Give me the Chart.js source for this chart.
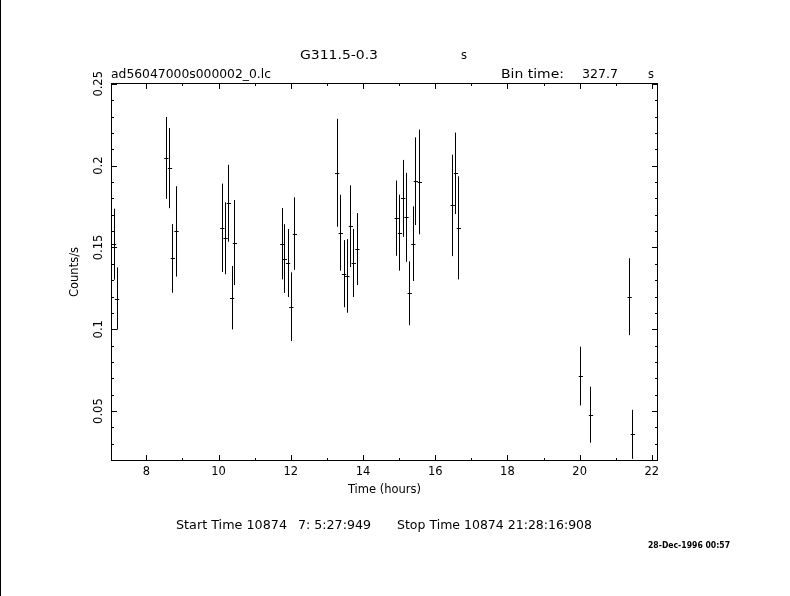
<!DOCTYPE html>
<html>
<head>
<meta charset="utf-8">
<script src="https://cdn.jsdelivr.net/npm/chart.js@4.4.0/dist/chart.umd.min.js"></script>
<style>
  html, body { margin: 0; padding: 0; background: #fff; }
  #wrap { width: 790px; height: 596px; }
</style>
</head>
<body>
<div id="wrap"><canvas id="lc" width="790" height="596"></canvas></div>
<script>
// light curve bins: time (hours), rate (counts/s), 1-sigma error
const timeHours = [
  7.09, 7.175,
  8.54, 8.64, 8.72, 8.82,
  10.09, 10.18, 10.27, 10.36, 10.44,
  11.75, 11.82, 11.91, 12.0, 12.10,
  13.27, 13.37, 13.46, 13.55, 13.65, 13.73, 13.83,
  14.92, 15.01, 15.10, 15.19, 15.28, 15.38, 15.45, 15.56,
  16.47, 16.56, 16.64,
  20.02, 20.30,
  21.37, 21.46
];
const countRate = [
  0.152, 0.1188,
  0.2047, 0.1985, 0.1433, 0.1598,
  0.162, 0.1556, 0.177, 0.1193, 0.153,
  0.1523, 0.1432, 0.1405, 0.1138, 0.1585,
  0.1956, 0.159, 0.134, 0.1326, 0.163, 0.1405, 0.149,
  0.1679, 0.159, 0.18, 0.1684, 0.122, 0.1523, 0.1905, 0.19,
  0.1757, 0.1953, 0.162,
  0.0714, 0.0478,
  0.1199, 0.0358
];
const rateError = [
  0.0217, 0.019,
  0.025, 0.0245, 0.021, 0.0276,
  0.027, 0.022, 0.0235, 0.0194, 0.026,
  0.0218, 0.021, 0.0208, 0.021, 0.0222,
  0.033, 0.0232, 0.0205, 0.0225, 0.025, 0.0208, 0.022,
  0.023, 0.0232, 0.0235, 0.0272, 0.0195, 0.0228, 0.0268, 0.032,
  0.031, 0.0249, 0.0315,
  0.018, 0.0171,
  0.0235, 0.015
];

const xTicks = [8, 10, 12, 14, 16, 18, 20, 22];
const yTicks = [0.05, 0.1, 0.15, 0.2, 0.25];
const binTime = 327.7; // seconds

const FONT = '11.5px "DejaVu Sans"';

// draw a string squeezed/stretched to a given width, left edge at x
function fitText(ctx, str, x, y, w, font) {
  ctx.font = font || FONT;
  const m = ctx.measureText(str).width;
  ctx.save();
  ctx.translate(x, y);
  ctx.scale(w / m, 1);
  ctx.textAlign = 'left';
  ctx.textBaseline = 'middle';
  ctx.fillText(str, 0, 0);
  ctx.restore();
}

const errorBars = {
  id: 'errorBars',
  afterDatasetsDraw(chart) {
    const ctx = chart.ctx;
    const xs = chart.scales.x, ys = chart.scales.y;
    const half = binTime / 3600 / 2;
    ctx.save();
    ctx.strokeStyle = '#000';
    ctx.lineWidth = 1;
    ctx.beginPath();
    timeHours.forEach((t, i) => {
      const px = Math.round(xs.getPixelForValue(t)) + 0.5;
      const py = Math.round(ys.getPixelForValue(countRate[i])) + 0.5;
      ctx.moveTo(px, ys.getPixelForValue(countRate[i] + rateError[i]));
      ctx.lineTo(px, ys.getPixelForValue(countRate[i] - rateError[i]));
      ctx.moveTo(xs.getPixelForValue(t - half), py);
      ctx.lineTo(xs.getPixelForValue(t + half) + 1, py);
    });
    ctx.stroke();
    ctx.restore();
  }
};

const frame = {
  id: 'frame',
  afterDraw(chart) {
    const ctx = chart.ctx;
    const a = chart.chartArea;
    const xs = chart.scales.x, ys = chart.scales.y;
    ctx.save();
    ctx.fillStyle = '#000';
    ctx.strokeStyle = '#000';
    ctx.lineWidth = 1;

    // left border of the page
    ctx.fillRect(0, 0, 1, 596);

    ctx.strokeRect(a.left + 0.5, a.top + 0.5, a.right - a.left - 1, a.bottom - a.top - 1);

    // ticks inside the box, every hour / every 0.01
    ctx.beginPath();
    for (let h = Math.ceil(xs.min); h <= xs.max; h++) {
      const px = Math.round(xs.getPixelForValue(h)) + 0.5;
      const len = xTicks.includes(h) ? 6 : 3;
      ctx.moveTo(px, a.bottom); ctx.lineTo(px, a.bottom - len);
      ctx.moveTo(px, a.top); ctx.lineTo(px, a.top + len);
    }
    for (let k = Math.ceil(ys.min * 100); k <= Math.floor(ys.max * 100 + 1e-6); k++) {
      const py = Math.round(ys.getPixelForValue(k / 100)) + 0.5;
      const len = k % 5 === 0 ? 6 : 3;
      ctx.moveTo(a.left, py); ctx.lineTo(a.left + len, py);
      ctx.moveTo(a.right, py); ctx.lineTo(a.right - len, py);
    }
    ctx.stroke();

    // tick labels
    ctx.font = FONT;
    ctx.textAlign = 'center';
    ctx.textBaseline = 'middle';
    xTicks.forEach(v => {
      ctx.fillText(String(v), xs.getPixelForValue(v), 472);
    });
    yTicks.forEach(v => {
      ctx.save();
      ctx.translate(99, ys.getPixelForValue(v));
      ctx.rotate(-Math.PI / 2);
      ctx.fillText(String(v), 0, 0);
      ctx.restore();
    });

    // axis titles
    ctx.fillText('Time (hours)', (a.left + a.right) / 2, 490);
    ctx.save();
    ctx.translate(75, (a.top + a.bottom) / 2);
    ctx.rotate(-Math.PI / 2);
    ctx.fillText('Counts/s', 0, 0);
    ctx.restore();

    // header lines
    fitText(ctx, 'G311.5-0.3', 300, 56, 78);
    ctx.fillText('s', 464, 56);
    fitText(ctx, 'ad56047000s000002_0.lc', 111, 75, 160);
    fitText(ctx, 'Bin time:', 501, 75, 63);
    fitText(ctx, String(binTime), 582, 75, 36);
    ctx.fillText('s', 651, 75);

    // footer
    fitText(ctx, 'Start Time 10874', 176, 526, 111);
    fitText(ctx, '7: 5:27:949', 298, 526, 73);
    fitText(ctx, 'Stop Time 10874 21:28:16:908', 397, 526, 195);
    fitText(ctx, '28-Dec-1996 00:57', 648, 546, 82, 'bold 8px "DejaVu Sans"');
    ctx.restore();
  }
};

new Chart(document.getElementById('lc'), {
  type: 'scatter',
  data: {
    datasets: [{
      data: timeHours.map((t, i) => ({ x: t, y: countRate[i] })),
      pointRadius: 0,
      showLine: false
    }]
  },
  options: {
    responsive: false,
    animation: false,
    layout: { padding: { left: 111, top: 83, right: 132, bottom: 135 } },
    plugins: { legend: { display: false }, tooltip: { enabled: false } },
    scales: {
      x: { type: 'linear', display: false, min: 7.02, max: 22.17 },
      y: { type: 'linear', display: false, min: 0.0195, max: 0.2505 }
    }
  },
  plugins: [errorBars, frame]
});
</script>
</body>
</html>
